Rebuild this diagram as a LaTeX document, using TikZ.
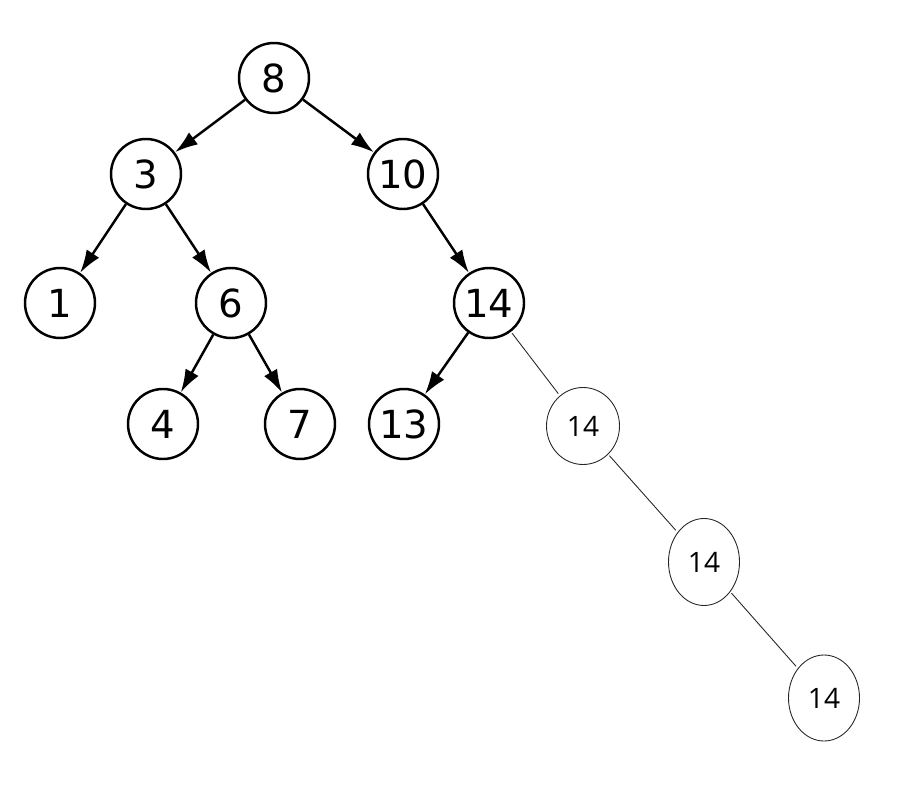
\documentclass[tikz,border=0pt]{standalone}
\usepackage{fontspec}
\usepackage{tikz}
\usetikzlibrary{arrows.meta,shapes.geometric}
\newfontfamily\keyfont{DejaVu Sans}
\newfontfamily\dupfont{Open Sans}

\begin{document}
\begin{tikzpicture}[
  x=1cm, y=1cm,
  % keys already in the tree: thick circles
  key/.style={
    draw=black,
    circle,
    line width=1.4pt,
    minimum size=1.4cm,
    inner sep=0pt,
    font=\keyfont\fontsize{22}{26}\selectfont
  },
  % repeated key 14: thin ellipses
  dup/.style={
    draw=black!85,
    ellipse,
    line width=0.5pt,
    inner sep=0pt,
    font=\dupfont\fontsize{16}{19}\selectfont
  },
  arr/.style={-{Latex[length=4.6mm, width=3mm]}, line width=1.4pt, draw=black},
  thin/.style={line width=0.5pt, draw=black!85, shorten <=1pt, shorten >=1.5pt}
]

\useasboundingbox (0,0) rectangle (18.1,-15.8);

% tree with arrows
\node[key] (n8)  at (5.48,-1.56) {8};
\node[key] (n3)  at (2.92,-3.48) {3};
\node[key] (n10) at (8.06,-3.48) {10};
\node[key] (n1)  at (1.20,-6.06) {1};
\node[key] (n6)  at (4.62,-6.06) {6};
\node[key] (n14) at (9.78,-6.06) {14};
\node[key] (n4)  at (3.26,-8.48) {4};
\node[key] (n7)  at (6.00,-8.48) {7};
\node[key] (n13) at (8.08,-8.48) {13};

% chain of repeated 14s
\node[dup, minimum width=1.46cm, minimum height=1.54cm] (d1) at (11.66,-8.52) {14};
\node[dup, minimum width=1.42cm, minimum height=1.74cm] (d2) at (14.08,-11.24) {14};
\node[dup, minimum width=1.42cm, minimum height=1.72cm] (d3) at (16.48,-13.96) {14};

\draw[arr] (n8) -- (n3);
\draw[arr] (n8) -- (n10);
\draw[arr] (n3) -- (n1);
\draw[arr] (n3) -- (n6);
\draw[arr] (n10) -- (n14);
\draw[arr] (n6) -- (n4);
\draw[arr] (n6) -- (n7);
\draw[arr] (n14) -- (n13);

\draw[thin] (n14) -- (d1);
\draw[thin] (d1) -- (d2);
\draw[thin] (d2) -- (d3);

\end{tikzpicture}
\end{document}
